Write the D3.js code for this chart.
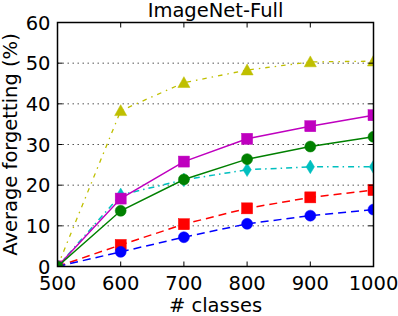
<!DOCTYPE html>
<html>
<head>
<meta charset="utf-8">
<script src="https://cdn.jsdelivr.net/npm/d3@7"></script>
<style>
body { margin: 0; background: #fff; }
text { font-family: "DejaVu Sans", sans-serif; }
</style>
</head>
<body>
<div id="chart"></div>
<script>
// ImageNet-Full forgetting chart

var classes = [500, 600, 700, 800, 900, 1000];
var yellowVals  = [0, 38.3, 45.2, 48.3, 50.3, 50.5];
var cyanVals    = [0, 17.6, 21.3, 23.8, 24.5, 24.5];
var redVals     = [0, 5.3, 10.4, 14.3, 17.0, 18.8];
var blueVals    = [0, 3.6, 7.2, 10.5, 12.5, 14.0];
var magentaVals = [0, 16.7, 25.8, 31.4, 34.5, 37.2];
var greenVals   = [0, 13.7, 21.4, 26.4, 29.5, 31.9];
var xTicks = [500, 600, 700, 800, 900, 1000];
var yTicks = [0, 10, 20, 30, 40, 50, 60];

var series = [
    {vals: yellowVals,  color: "#bfbf00", dash: "4.5,5,1.5,5", lw: 1.3, marker: "triangle"},
    {vals: cyanVals,    color: "#00bfbf", dash: "6,4,1.5,4",   lw: 1.5, marker: "diamond"},
    {vals: redVals,     color: "#ff0000", dash: "8,5",         lw: 1.5, marker: "square"},
    {vals: blueVals,    color: "#0000ff", dash: "8,5",         lw: 1.5, marker: "circle"},
    {vals: magentaVals, color: "#bf00bf", dash: null,          lw: 1.5, marker: "square"},
    {vals: greenVals,   color: "#008000", dash: null,          lw: 1.5, marker: "circle"}
];

function drawChart() {
    var width = 398, height = 316;
    var pL = 57.5, pR = 373.5, pT = 22.5, pB = 266.5;
    var fs = 19.5;

    var svg = d3.select("#chart").append("svg")
        .attr("width", width)
        .attr("height", height);

    var x = d3.scaleLinear().domain([500, 1000]).range([pL, pR]);
    var y = d3.scaleLinear().domain([0, 60]).range([pB, pT]);

    svg.append("defs").append("clipPath")
        .attr("id", "plotclip")
        .append("rect")
        .attr("x", pL).attr("y", pT)
        .attr("width", pR - pL).attr("height", pB - pT);

    // grid
    svg.append("g").selectAll("line")
        .data(yTicks.filter(function(d){return d > 0 && d < 60;}))
        .enter().append("line")
        .attr("x1", pL).attr("x2", pR)
        .attr("y1", function(d){return y(d);})
        .attr("y2", function(d){return y(d);})
        .attr("stroke", "#555")
        .attr("stroke-width", 1)
        .attr("stroke-dasharray", "1.5,3.5");

    var plot = svg.append("g").attr("clip-path", "url(#plotclip)");
    var line = d3.line()
        .x(function(d, i){return x(classes[i]);})
        .y(function(d){return y(d);});

    var ms = 11;
    series.forEach(function(s) {
        plot.append("path")
            .attr("d", line(s.vals))
            .attr("fill", "none")
            .attr("stroke", s.color)
            .attr("stroke-width", s.lw)
            .attr("stroke-dasharray", s.dash);
        var g = plot.append("g");
        s.vals.forEach(function(v, i) {
            var cx = x(classes[i]), cy = y(v);
            var m;
            if (s.marker == "circle") {
                m = g.append("circle").attr("cx", cx).attr("cy", cy).attr("r", ms/2);
            } else if (s.marker == "square") {
                m = g.append("rect").attr("x", cx - ms/2).attr("y", cy - ms/2)
                    .attr("width", ms).attr("height", ms);
            } else if (s.marker == "triangle") {
                var h = ms * 0.55;
                m = g.append("path").attr("d", "M" + cx + "," + (cy - h) + "L" + (cx + h) + "," + (cy + h*0.8) +
                    "L" + (cx - h) + "," + (cy + h*0.8) + "Z");
            } else {
                var w = ms * 0.38, hh = ms * 0.62;
                m = g.append("path").attr("d", "M" + cx + "," + (cy - hh) + "L" + (cx + w) + "," + cy +
                    "L" + cx + "," + (cy + hh) + "L" + (cx - w) + "," + cy + "Z");
            }
            m.attr("fill", s.color).attr("stroke", s.color).attr("stroke-width", 0.5);
        });
    });

    // ticks (inward, all sides)
    var tl = 5;
    var tg = svg.append("g").attr("stroke", "#000").attr("stroke-width", 1);
    xTicks.forEach(function(t) {
        tg.append("line").attr("x1", x(t)).attr("x2", x(t)).attr("y1", pB).attr("y2", pB - tl);
        tg.append("line").attr("x1", x(t)).attr("x2", x(t)).attr("y1", pT).attr("y2", pT + tl);
    });
    yTicks.forEach(function(t) {
        tg.append("line").attr("y1", y(t)).attr("y2", y(t)).attr("x1", pL).attr("x2", pL + tl);
        tg.append("line").attr("y1", y(t)).attr("y2", y(t)).attr("x1", pR).attr("x2", pR - tl);
    });

    svg.append("rect")
        .attr("x", pL).attr("y", pT)
        .attr("width", pR - pL).attr("height", pB - pT)
        .attr("fill", "none").attr("stroke", "#000").attr("stroke-width", 1.5);

    // tick labels
    svg.append("g").selectAll("text").data(xTicks).enter().append("text")
        .attr("x", function(d){return x(d);})
        .attr("y", pB + 23)
        .attr("text-anchor", "middle")
        .attr("font-size", fs)
        .text(function(d){return d;});

    svg.append("g").selectAll("text").data(yTicks).enter().append("text")
        .attr("x", pL - 7)
        .attr("y", function(d){return y(d) + 7;})
        .attr("text-anchor", "end")
        .attr("font-size", fs)
        .text(function(d){return d;});

    svg.append("text")
        .attr("x", (pL + pR) / 2)
        .attr("y", 16.5)
        .attr("text-anchor", "middle")
        .attr("font-size", fs)
        .text("ImageNet-Full");

    svg.append("text")
        .attr("x", (pL + pR) / 2)
        .attr("y", 312)
        .attr("text-anchor", "middle")
        .attr("font-size", fs)
        .text("# classes");

    svg.append("text")
        .attr("transform", "translate(17," + ((pT + pB) / 2) + ") rotate(-90)")
        .attr("text-anchor", "middle")
        .attr("font-size", fs)
        .text("Average forgetting (%)");
}

drawChart();
</script>
</body>
</html>
